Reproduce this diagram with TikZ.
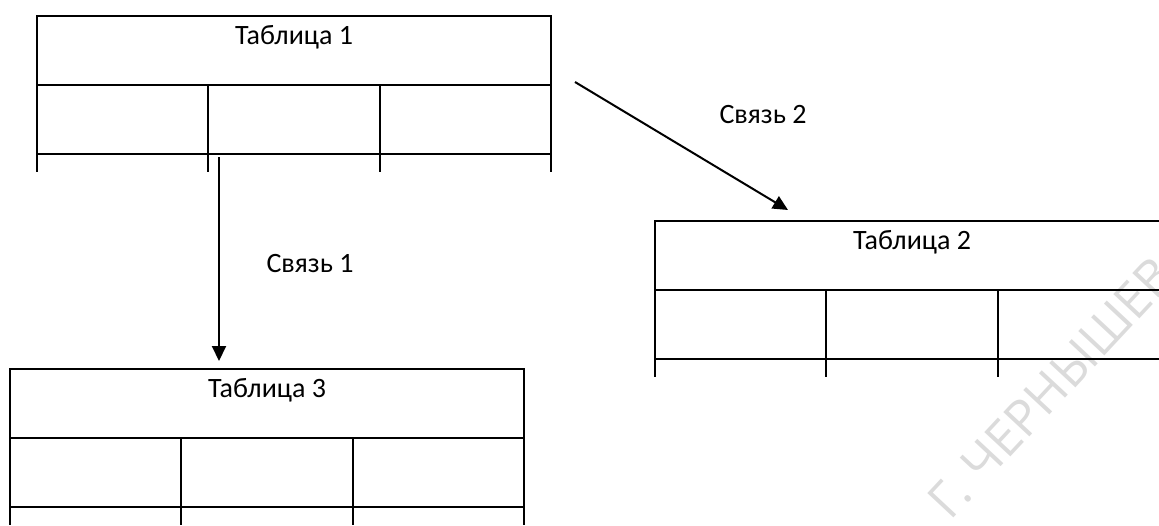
\documentclass[tikz,border=0pt]{standalone}
\usepackage{fontspec}
\setmainfont{Carlito}
\newfontfamily\wmfont{Open Sans}
\usepackage{tikz}
\usetikzlibrary{calc,arrows.meta}

\begin{document}
\begin{tikzpicture}[x=1pt,y=-1pt,
	head/.style={draw,line width=2.7pt,outer sep=0pt,anchor=north west,
		minimum width=514pt,inner xsep=0pt,inner ysep=0pt,
		text height=28pt,text depth=41pt,font=\fontsize{28}{34}\selectfont},
	grid/.style={line width=2.7pt},
	link/.style={line width=2pt,-{Triangle[length=15pt,width=14pt]}},
	lbl/.style={anchor=base,font=\fontsize{28}{34}\selectfont}]
	\useasboundingbox (0,0) rectangle (1159,525);
	\clip (0,0) rectangle (1159,525);
	% watermark
	\node[anchor=base west,inner sep=0pt,rotate=47,text=gray!28,font=\wmfont\fontsize{50}{56}\selectfont]
		(wm) at (950,522) {Г. ЧЕРНЫШЕВСКОГО};
	% tables: header, one row, open bottom
	\foreach \n/\x/\y in {1/37/16,2/655/221,3/10/369}{
		\node[head] (t\n) at (\x,\y) {Таблица \n};
		\draw[grid] (t\n.south west) ++(0,69) -- ++(514,0);
		\foreach \c in {0,171,343,514}
			\draw[grid] (t\n.south west) ++(\c,0) -- ++(0,87);
	}
	% links
	\draw[link] ($(t1.south west)+(182,72)$) -- ($(t3.north west)+(209,-8)$);
	\draw[link] ($(t1.south east)+(24,-3)$) -- ($(t2.north west)+(133,-11)$);
	\node[lbl] (s1) at (310,272) {Связь 1};
	\node[lbl] (s2) at (763,123) {Связь 2};
\end{tikzpicture}
\end{document}
